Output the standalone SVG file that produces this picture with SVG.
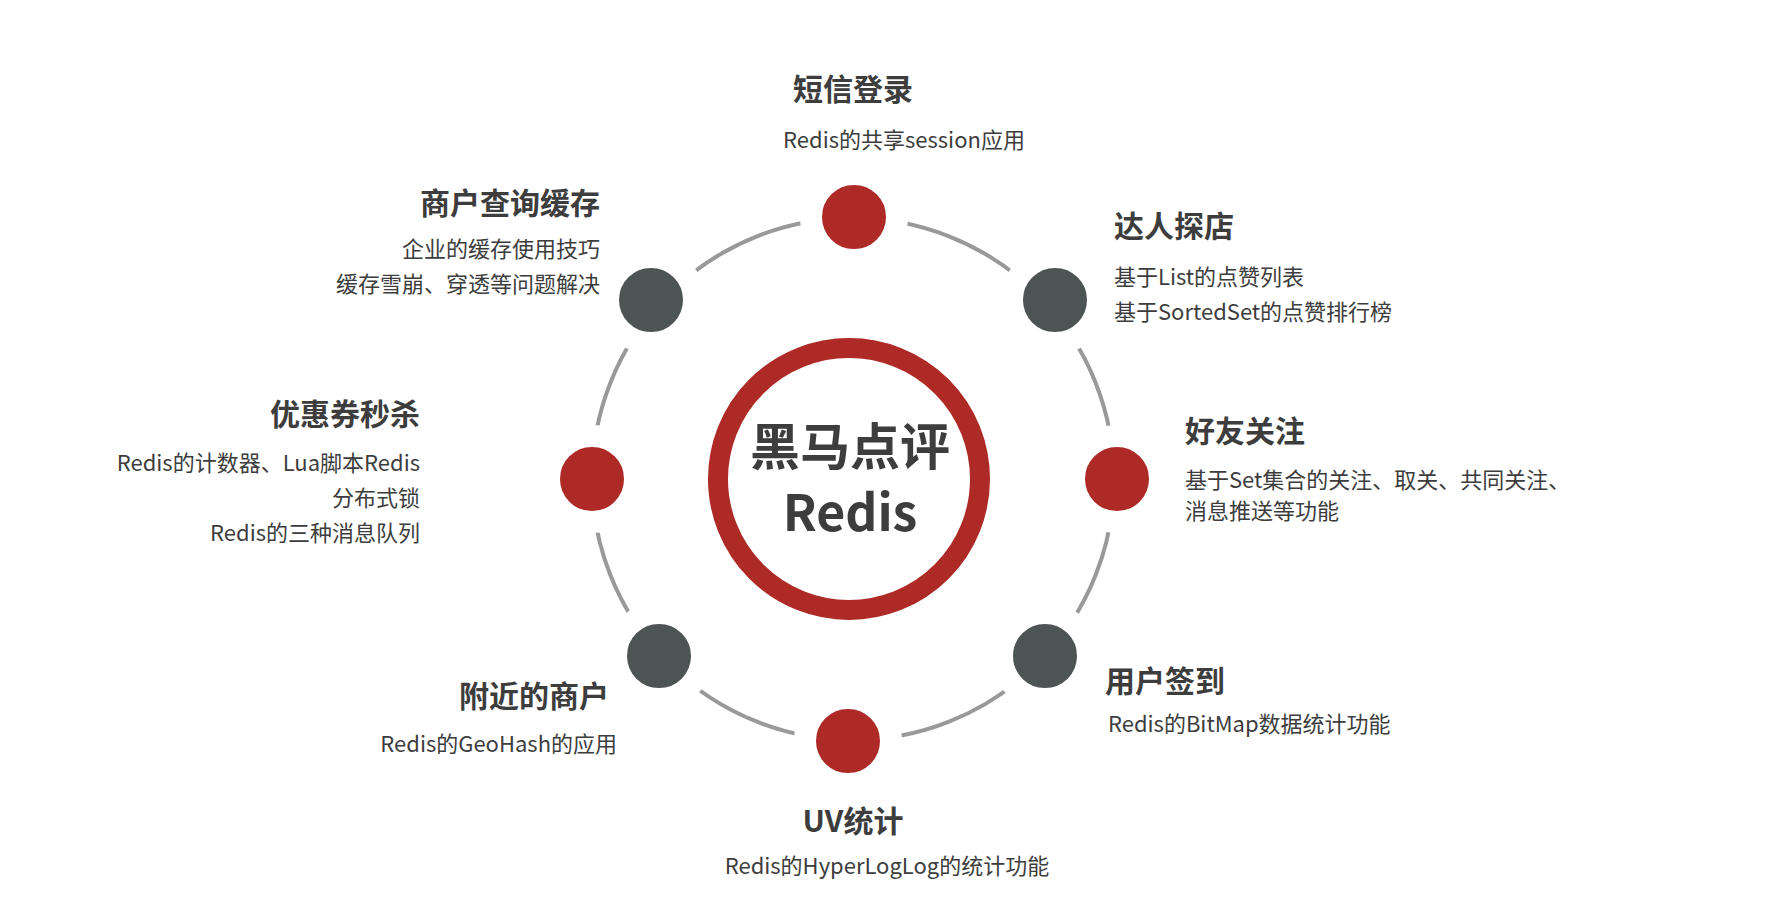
<svg xmlns="http://www.w3.org/2000/svg" width="1779" height="905" viewBox="0 0 1779 905">
<style>
.t{font-family:"Noto Sans CJK SC","Noto Sans",sans-serif;font-weight:bold;font-size:30px;fill:#3d3d3d}
.s{font-family:"Noto Sans CJK SC","Noto Sans",sans-serif;font-size:22px;fill:#3d3d3d}
.r{fill:#ad2a27;stroke:#fff;stroke-width:22}
.g{fill:#4d5454;stroke:#fff;stroke-width:22}
</style>
<rect width="1779" height="905" fill="#fff"/>
<g id="connectors"><circle cx="853" cy="479" r="261" fill="none" stroke="#999" stroke-width="4"/></g>
<g id="center"><circle cx="849" cy="479" r="131" fill="none" stroke="#ad2a27" stroke-width="20"/>
<text class="t" x="850" y="465" text-anchor="middle" style="font-size:50px">黑马点评</text>
<text class="t" x="850" y="531" text-anchor="middle" style="font-size:50px">Redis</text></g>
<g id="n1"><circle class="r" cx="854" cy="217" r="43"/><text class="t" x="853" y="100" text-anchor="middle">短信登录</text><text class="s" x="904" y="148" text-anchor="middle">Redis的共享session应用</text></g>
<g id="n2"><circle class="g" cx="1055" cy="300" r="43"/><text class="t" x="1114" y="237">达人探店</text><text class="s" x="1114" y="285">基于List的点赞列表</text><text class="s" x="1114" y="320">基于SortedSet的点赞排行榜</text></g>
<g id="n3"><circle class="r" cx="1117" cy="479" r="43"/><text class="t" x="1185" y="442">好友关注</text><text class="s" x="1185" y="488">基于Set集合的关注、取关、共同关注、</text><text class="s" x="1185" y="519">消息推送等功能</text></g>
<g id="n4"><circle class="g" cx="1045" cy="656" r="43"/><text class="t" x="1105" y="692">用户签到</text><text class="s" x="1108" y="732">Redis的BitMap数据统计功能</text></g>
<g id="n5"><circle class="r" cx="848" cy="741" r="43"/><text class="t" x="853" y="832" text-anchor="middle">UV统计</text><text class="s" x="887" y="874" text-anchor="middle">Redis的HyperLogLog的统计功能</text></g>
<g id="n6"><circle class="g" cx="659" cy="656" r="43"/><text class="t" x="609" y="707" text-anchor="end">附近的商户</text><text class="s" x="617" y="752" text-anchor="end">Redis的GeoHash的应用</text></g>
<g id="n7"><circle class="r" cx="592" cy="479" r="43"/><text class="t" x="420" y="425" text-anchor="end">优惠券秒杀</text><text class="s" x="420" y="471" text-anchor="end">Redis的计数器、Lua脚本Redis</text><text class="s" x="420" y="506" text-anchor="end">分布式锁</text><text class="s" x="420" y="541" text-anchor="end">Redis的三种消息队列</text></g>
<g id="n8"><circle class="g" cx="651" cy="300" r="43"/><text class="t" x="600" y="214" text-anchor="end">商户查询缓存</text><text class="s" x="600" y="257" text-anchor="end">企业的缓存使用技巧</text><text class="s" x="600" y="292" text-anchor="end">缓存雪崩、穿透等问题解决</text></g>
</svg>
